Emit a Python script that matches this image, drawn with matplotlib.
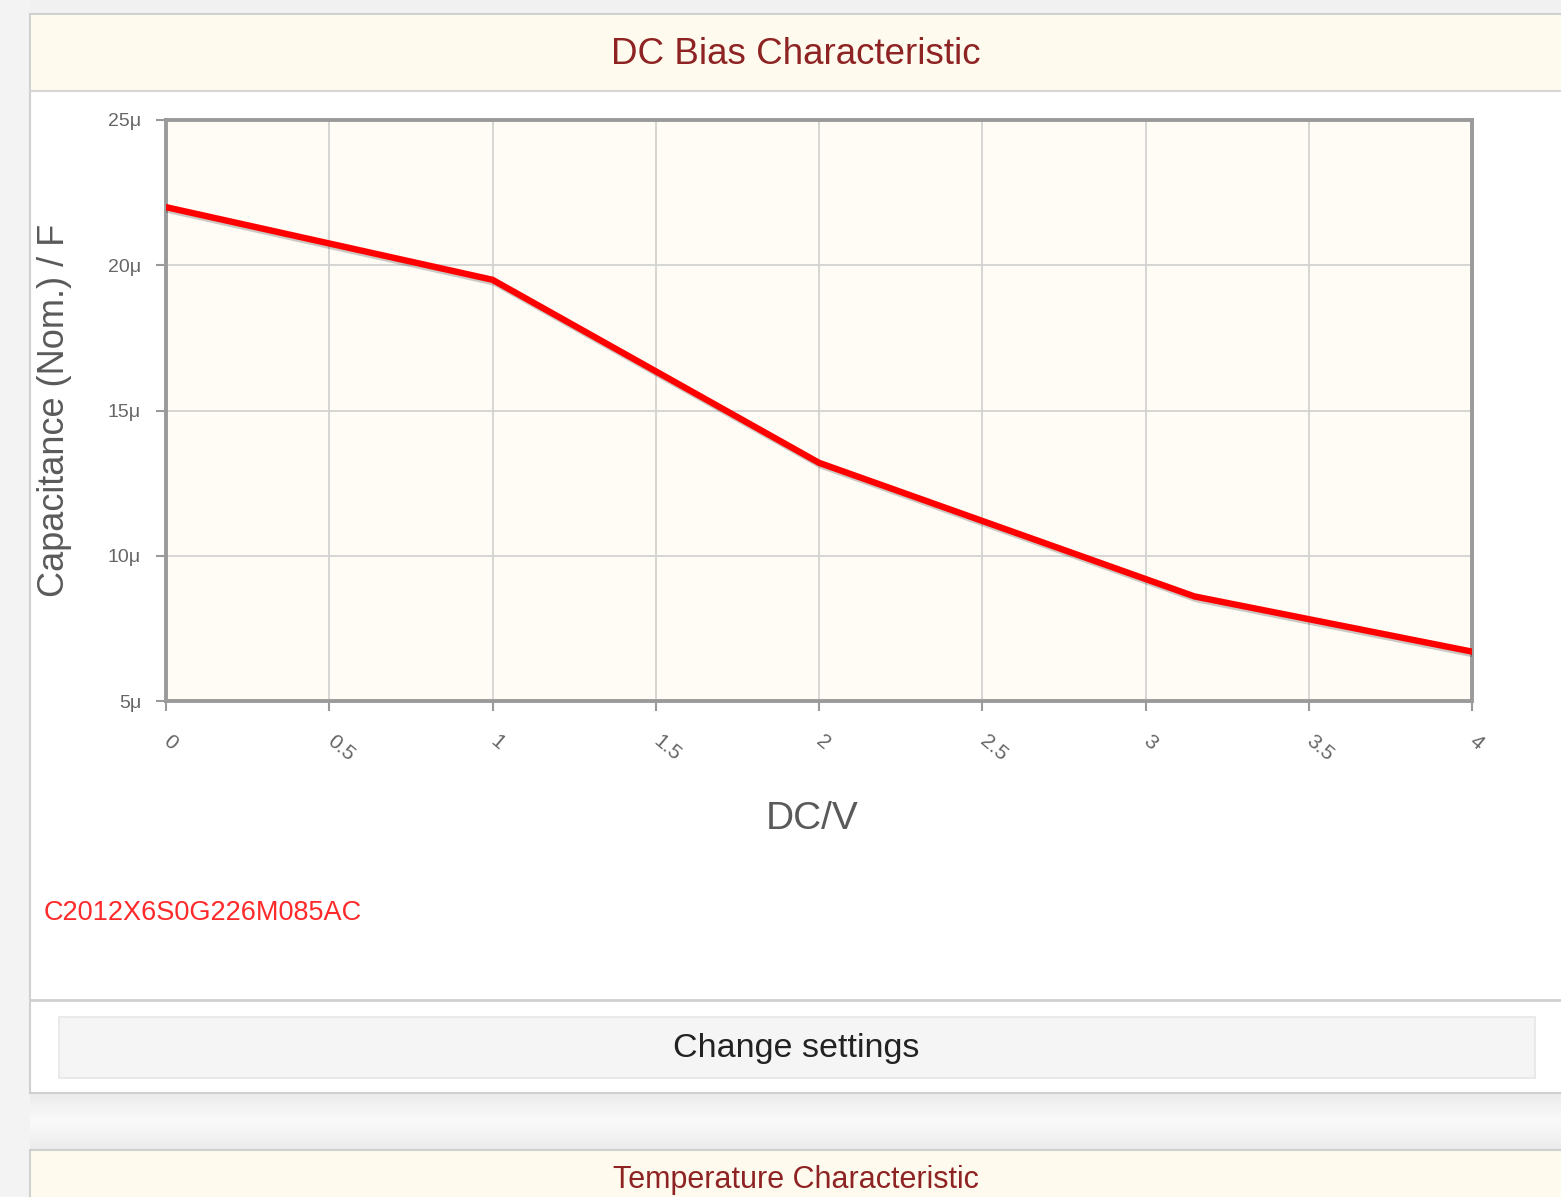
import matplotlib
matplotlib.use("Agg")
import matplotlib.pyplot as plt
from matplotlib.patches import Rectangle
import matplotlib.patheffects as pe
from matplotlib import font_manager

# ---- data ----
dc_volts = [0, 1, 2, 3.15, 4]
capacitance_uF = [22.0, 19.5, 13.2, 8.6, 6.7]
x_ticks = [0, 0.5, 1, 1.5, 2, 2.5, 3, 3.5, 4]
x_tick_labels = ["0", "0.5", "1", "1.5", "2", "2.5", "3", "3.5", "4"]
y_ticks = [5, 10, 15, 20, 25]
y_tick_labels = ["5\u03bc", "10\u03bc", "15\u03bc", "20\u03bc", "25\u03bc"]
title = "DC Bias Characteristic"
part_number = "C2012X6S0G226M085AC"
next_title = "Temperature Characteristic"

names = {f.name for f in font_manager.fontManager.ttflist}
FAM = ["Liberation Sans Narrow", "Liberation Sans", "DejaVu Sans"] if "Liberation Sans Narrow" in names else ["Liberation Sans", "DejaVu Sans"]
plt.rcParams['font.family'] = FAM

W, H = 1561, 1197
fig = plt.figure(figsize=(W / 100, H / 100), dpi=100)
fig.patch.set_facecolor("white")

bg = fig.add_axes([0, 0, 1, 1])
bg.set_xlim(0, W)
bg.set_ylim(H, 0)
bg.axis("off")

def rect(x0, y0, x1, y1, fc, ec="none", lw=0, z=0):
    bg.add_patch(Rectangle((x0, y0), x1 - x0, y1 - y0, facecolor=fc, edgecolor=ec, linewidth=lw, zorder=z))

# page background strips
rect(0, 0, W, 14, "#f1f1f1")
rect(0, 0, 30, H, "#f3f3f3")
# gap between panels (gradient)
for i in range(57):
    t = abs(i - 28) / 28.0
    g = 0.98 - 0.06 * t
    rect(30, 1093 + i, W, 1094 + i, (g, g, g))
# panel
rect(30, 14, W + 5, 1093, "white", ec="#d0d0d0", lw=1.5, z=1)
rect(31, 15, W + 5, 91, "#fffaee", z=2)
bg.plot([31, W], [91, 91], color="#d6d6d6", lw=1.5, zorder=3)
bg.text(796, 54, title, ha="center", va="center", fontsize=26.5, color="#8e2323", zorder=4)
# part number
bg.text(44, 913, part_number, ha="left", va="center", fontsize=19.5, color="#ff2a2a", zorder=4)
# separator
bg.plot([31, W], [1000, 1000], color="#d0d0d0", lw=2, zorder=3)
# button
rect(59, 1017, 1535, 1078, "#f5f5f5", ec="#e6e6e6", lw=1.2, z=3)
bg.text(796, 1048, "Change settings", ha="center", va="center", fontsize=24.5, color="#222222", zorder=4)
# next panel header
rect(30, 1150, W + 5, H + 5, "#fffaee", ec="#d0d0d0", lw=1.5, z=1)
bg.text(796, 1195, next_title, ha="center", va="bottom", fontsize=22, color="#8e2323", zorder=4)

# ---- plot area ----
L, R, T, B = 166, 1472, 120, 701
ax = fig.add_axes([L / W, 1 - B / H, (R - L) / W, (B - T) / H])
ax.set_facecolor("#fffcf5")
ax.plot(dc_volts, capacitance_uF, color="#ff0000", lw=4.6, solid_joinstyle="round",
        path_effects=[pe.SimpleLineShadow(offset=(1.5, -2), shadow_color="#000000", alpha=0.2), pe.Normal()],
        zorder=5)
ax.set_xlim(0, 4)
ax.set_ylim(5, 25)
ax.set_xticks(x_ticks)
ax.set_yticks(y_ticks)
ax.set_xticklabels(x_tick_labels, rotation=-40, rotation_mode="anchor", ha="left", va="center",
                   fontsize=15, color="#666666")
ax.set_yticklabels(y_tick_labels, fontsize=14, color="#666666")
ax.grid(True, color="#d2d2d2", lw=1.3)
ax.set_axisbelow(True)
for s in ax.spines.values():
    s.set_color("#9a9a9a")
    s.set_linewidth(2.8)
    s.set_path_effects([pe.SimplePatchShadow(offset=(2, -2), alpha=0.12), pe.Normal()])
ax.tick_params(axis="both", colors="#9a9a9a", length=7, width=1.5)
ax.tick_params(axis="y", pad=11, labelcolor="#666666")
ax.tick_params(axis="x", pad=20, labelcolor="#666666")
ax.set_xlabel("DC/V", fontsize=28, color="#5a5a5a", labelpad=28)
ax.xaxis.set_label_coords(0.495, -0.172)
ax.set_ylabel("Capacitance (Nom.) / F", fontsize=26, color="#5a5a5a", labelpad=26)

fig.savefig("out.png", dpi=100, facecolor=fig.get_facecolor())
